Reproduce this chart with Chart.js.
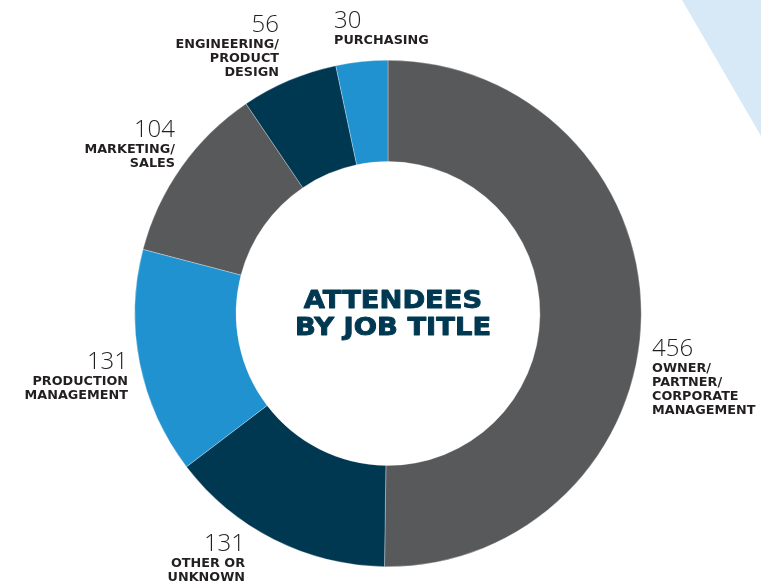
<!DOCTYPE html>
<html>
<head>
<meta charset="utf-8">
<script src="https://cdn.jsdelivr.net/npm/chart.js@4/dist/chart.umd.min.js"></script>
<style>
  html, body { margin: 0; padding: 0; background: #ffffff; }
  #wrap { width: 761px; height: 583px; }
</style>
</head>
<body>
<div id="wrap"><canvas id="job_title_canvas"></canvas></div>
<script>
// data
var job_labels = ['OWNER/PARTNER/CORPORATE MANAGEMENT', 'OTHER OR UNKNOWN', 'PRODUCTION MANAGEMENT',
                  'MARKETING/SALES', 'ENGINEERING/PRODUCT DESIGN', 'PURCHASING'];
var job_counts = [456, 131, 131, 104, 56, 30];
var label_lines = [
  ['OWNER/', 'PARTNER/', 'CORPORATE', 'MANAGEMENT'],
  ['OTHER OR', 'UNKNOWN'],
  ['PRODUCTION', 'MANAGEMENT'],
  ['MARKETING/', 'SALES'],
  ['ENGINEERING/', 'PRODUCT', 'DESIGN'],
  ['PURCHASING']
];
var center_title = ['ATTENDEES', 'BY JOB TITLE'];

var gray = '#58595b';
var navy = '#003852';
var blue = '#2092d0';
var slice_colors = [gray, navy, blue, gray, navy, blue];

// where each callout sits: x, y of the number's top, alignment
var callout_pos = [
  { x: 652, y: 340, align: 'left' },
  { x: 245, y: 535, align: 'right' },
  { x: 128, y: 353, align: 'right' },
  { x: 175, y: 121, align: 'right' },
  { x: 279, y: 16,  align: 'right' },
  { x: 334, y: 12,  align: 'left' }
];

var backdrop_plugin = {
  id: 'backdrop',
  beforeDraw: function(chart)
  {
    var ctx = chart.ctx;
    ctx.save();
    ctx.fillStyle = '#d7e9f6';
    ctx.beginPath();
    ctx.moveTo(682, 0);
    ctx.lineTo(761, 0);
    ctx.lineTo(761, 136);
    ctx.closePath();
    ctx.fill();
    ctx.restore();
  }
};

var callout_plugin = {
  id: 'callouts',
  afterDraw: function(chart)
  {
    var ctx = chart.ctx;
    ctx.save();
    ctx.textBaseline = 'top';

    for (var i = 0; i < job_counts.length; i++)
    {
      var p = callout_pos[i];
      ctx.textAlign = p.align;
      ctx.fillStyle = '#231f20';
      ctx.font = '300 24px "Open Sans"';
      ctx.fillText(String(job_counts[i]), p.x, p.y - 3);

      ctx.font = 'bold 12.8px "DejaVu Sans"';
      var lines = label_lines[i];
      for (var j = 0; j < lines.length; j++)
      {
        ctx.fillText(lines[j], p.x, p.y + 22.5 + j * 13.8);
      }
    }

    // centre title, a little stretched and thickened like the original
    var arc = chart.getDatasetMeta(0).data[0];
    ctx.translate(arc.x + 5, 0);
    ctx.scale(1.14, 1);
    ctx.textAlign = 'center';
    ctx.textBaseline = 'middle';
    ctx.fillStyle = navy;
    ctx.strokeStyle = navy;
    ctx.lineWidth = 0.9;
    ctx.lineJoin = 'round';
    ctx.font = 'bold 24px "DejaVu Sans"';
    ctx.fillText(center_title[0], 0, 302);
    ctx.strokeText(center_title[0], 0, 302);
    ctx.fillText(center_title[1], 0, 329);
    ctx.strokeText(center_title[1], 0, 329);
    ctx.restore();
  }
};

var chart_canvas = document.getElementById('job_title_canvas').getContext('2d');

new Chart(chart_canvas, {
  type: 'doughnut',
  data: {
    labels: job_labels,
    datasets: [{
      data: job_counts,
      backgroundColor: slice_colors,
      borderColor: 'rgba(255,255,255,0.6)',
      borderWidth: 0.5
    }]
  },
  options: {
    responsive: true,
    maintainAspectRatio: false,
    animation: false,
    cutout: '60%',
    layout: { padding: { top: 60, bottom: 16, left: 15, right: 0 } },
    plugins: {
      legend: { display: false },
      tooltip: { enabled: false }
    }
  },
  plugins: [backdrop_plugin, callout_plugin]
});
</script>
</body>
</html>
